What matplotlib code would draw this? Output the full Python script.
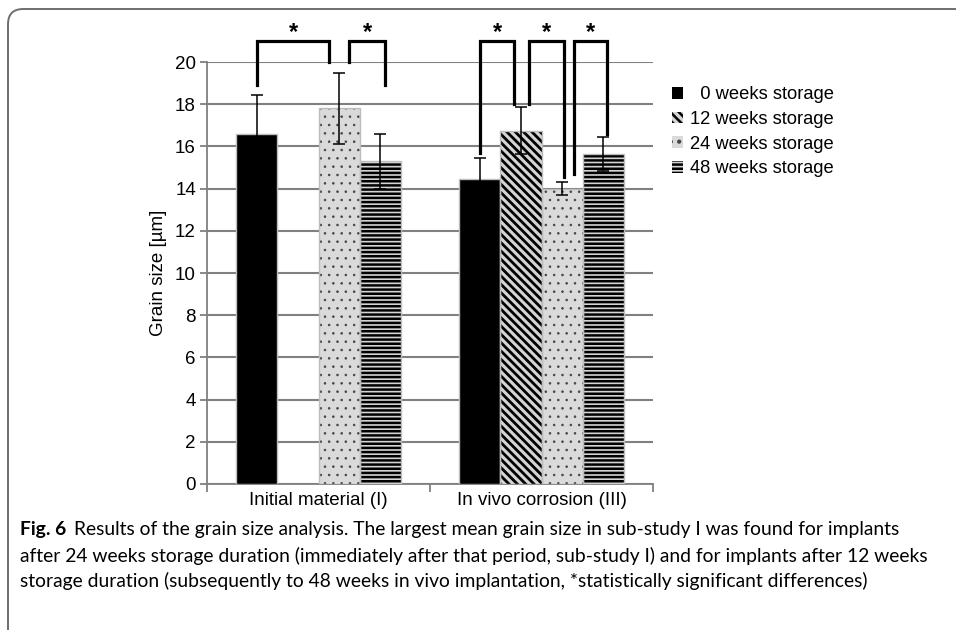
import numpy as np
import matplotlib.pyplot as plt
from matplotlib.patches import FancyBboxPatch, Patch

plt.rcParams['font.family'] = ['Liberation Sans', 'DejaVu Sans']

# data
groups = ['Initial material (I)', 'In vivo corrosion (III)']
series = ['0 weeks storage', '12 weeks storage', '24 weeks storage', '48 weeks storage']
means = [
    [16.6, 14.45],        # 0 weeks
    [np.nan, 16.75],      # 12 weeks
    [17.8, 14.0],         # 24 weeks
    [15.3, 15.65],        # 48 weeks
]
errs = [
    [1.85, 1.0],
    [np.nan, 1.1],
    [1.7, 0.3],
    [1.3, 0.8],
]
# significance brackets: (group, bar a, bar b, leg offset a, leg offset b, bottom a, bottom b)
brackets = [
    (0, 0, 2, 0.0, -0.043, 18.9, 20.0),
    (0, 2, 3, 0.047, 0.02, 20.0, 18.9),
    (1, 0, 1, 0.0, -0.03, 15.7, 18.0),
    (1, 1, 2, 0.034, 0.01, 18.0, 14.55),
    (1, 2, 3, 0.054, 0.018, 14.7, 16.6),
]
bracket_top = 21.0
star_y = 21.4

faces = ['black', '#d4d4d4', '#dadada', '#d4d4d4']
hatch_cols = ['black', 'black', '#444444', 'black']
hatches = [None, '\\\\\\\\', '..', '----']
hatch_lw = [1.0, 2.0, 0.6, 1.8]

fs = 13.5
fig = plt.figure(figsize=(9.56, 6.3), dpi=100)
ax = fig.add_axes([207 / 956, 1 - 484 / 630, (653 - 207) / 956, (484 - 62) / 630])

width = 0.184
centers = np.array([0.5, 1.5])
offsets = (np.arange(4) - 1.5) * width

handles = []
for i in range(4):
    xs = centers + offsets[i]
    plt.rcParams['hatch.linewidth'] = hatch_lw[i]
    b = ax.bar(xs, means[i], width, color=faces[i], edgecolor=hatch_cols[i],
               linewidth=0, hatch=hatches[i], zorder=3)
    for p in b:
        if hasattr(p, 'set_hatch_linewidth'):
            p.set_hatch_linewidth(hatch_lw[i])
    ax.bar(xs, means[i], width, fill=False, edgecolor='#bdbdbd', linewidth=1.0, zorder=4)
    ax.errorbar(xs, means[i], yerr=errs[i], fmt='none', ecolor='black',
                elinewidth=1.1, capsize=4.5, capthick=1.1, zorder=5)
    h = Patch(facecolor=faces[i], edgecolor=hatch_cols[i], linewidth=0, hatch=hatches[i])
    if hasattr(h, 'set_hatch_linewidth'):
        h.set_hatch_linewidth(hatch_lw[i])
    handles.append(h)

for g, a, bb, oa, ob, ya, yb in brackets:
    xa = centers[g] + offsets[a] + oa
    xb = centers[g] + offsets[bb] + ob
    ax.plot([xa, xa, xb, xb], [ya, bracket_top, bracket_top, yb], color='black',
            lw=2.3, solid_joinstyle='miter', clip_on=False, zorder=6)
    ax.text((xa + xb) / 2, star_y, '*', ha='center', va='center', fontsize=17,
            fontweight='bold', clip_on=False)

ax.set_xlim(0, 2)
ax.set_ylim(0, 20)
ax.set_yticks(range(0, 21, 2))
ax.set_xticks([0, 1, 2])
ax.set_xticklabels([])
ax.set_xticks(centers, minor=True)
ax.set_xticklabels(groups, minor=True, fontsize=fs)
ax.tick_params(axis='x', which='minor', length=0, pad=6)
ax.tick_params(axis='x', which='major', length=6, color='#808080', width=1.3)
ax.tick_params(axis='y', length=5, color='#808080', width=1.3, labelsize=fs, pad=3)
ax.yaxis.grid(True, color='#808080', linewidth=1.5, zorder=0)
ax.set_axisbelow(True)
for s in ['top', 'right']:
    ax.spines[s].set_visible(False)
for s in ['left', 'bottom']:
    ax.spines[s].set_color('#808080')
    ax.spines[s].set_linewidth(1.3)
ax.set_ylabel('Grain size [µm]', fontsize=fs, labelpad=6)

leg = fig.legend(handles, ['  ' + series[0]] + series[1:], loc='upper left',
                 bbox_to_anchor=(665 / 956, 1 - 79 / 630), frameon=False,
                 fontsize=13.2, handlelength=0.6, handleheight=0.6,
                 handletextpad=0.35, labelspacing=0.42, borderaxespad=0)

# caption box
box = FancyBboxPatch((8 / 956, -0.1), 1.2, 1 - 9 / 630 + 0.1,
                     boxstyle='round,pad=0,rounding_size=0.016',
                     transform=fig.transFigure, fill=False,
                     edgecolor='#6e6e6e', linewidth=1.4, zorder=0,
                     mutation_aspect=956 / 630)
fig.patches.append(box)

cap_font = ['Lato', 'DejaVu Sans']
cap_size = 13.9
cap_lines = [
    'Results of the grain size analysis. The largest mean grain size in sub-study I was found for implants',
    'after 24 weeks storage duration (immediately after that period, sub-study I) and for implants after 12 weeks',
    'storage duration (subsequently to 48 weeks in vivo implantation, *statistically significant differences)',
]
cap_y = [530, 555.5, 581]
t = fig.text(20 / 956, 1 - cap_y[0] / 630, 'Fig. 6', fontsize=cap_size, fontweight='bold',
             family=cap_font, va='center')
r = fig.canvas.get_renderer()
bb_ = t.get_window_extent(renderer=r)
fig.text((bb_.x1 + 8) / 956, 1 - cap_y[0] / 630, cap_lines[0], fontsize=cap_size,
         family=cap_font, va='center')
for line, y in zip(cap_lines[1:], cap_y[1:]):
    fig.text(20 / 956, 1 - y / 630, line, fontsize=cap_size, family=cap_font, va='center')

fig.savefig('out.png', dpi=100)
